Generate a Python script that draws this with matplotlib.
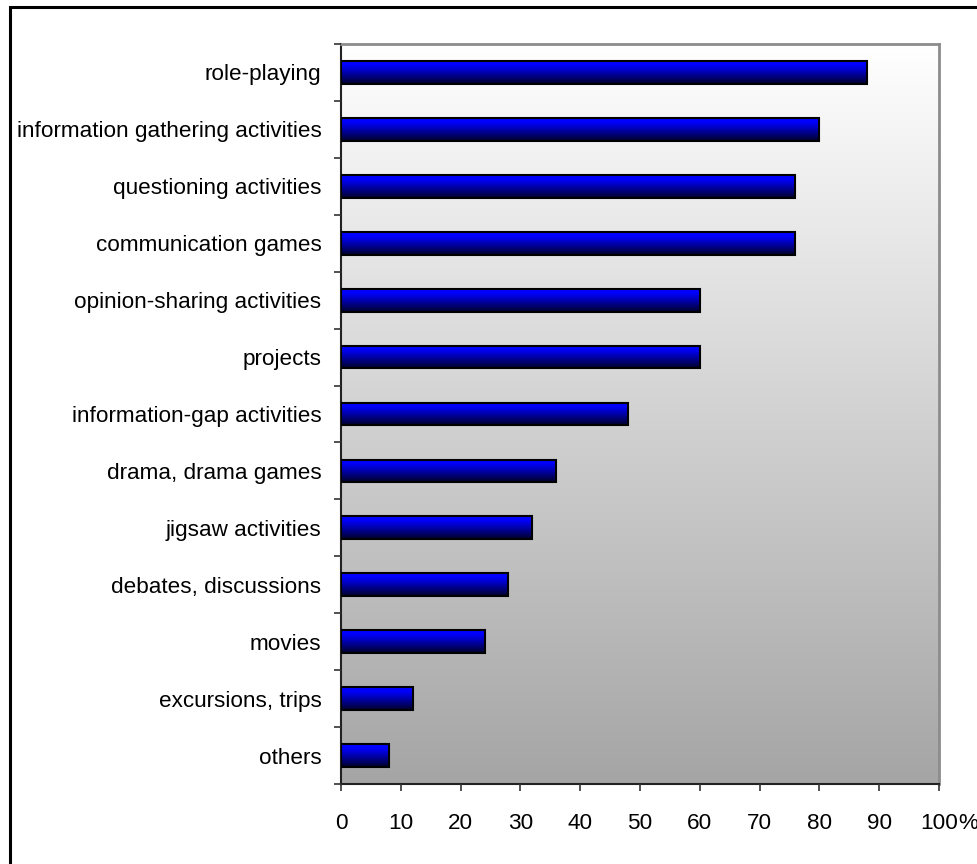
import numpy as np
import matplotlib
matplotlib.use("Agg")
import matplotlib.pyplot as plt
from matplotlib.patches import Rectangle

plt.rcParams['font.family'] = ['Liberation Sans', 'DejaVu Sans']

categories = [
    "role-playing",
    "information gathering activities",
    "questioning activities",
    "communication games",
    "opinion-sharing activities",
    "projects",
    "information-gap activities",
    "drama, drama games",
    "jigsaw activities",
    "debates, discussions",
    "movies",
    "excursions, trips",
    "others",
]
values = [88, 80, 76, 76, 60, 60, 48, 36, 32, 28, 24, 12, 8]
x_ticks = [0, 10, 20, 30, 40, 50, 60, 70, 80, 90, 100]
x_tick_labels = ["0", "10", "20", "30", "40", "50", "60", "70", "80", "90", "100"]

FS = 16.2
W, H = 978, 864
fig = plt.figure(figsize=(W / 100, H / 100), dpi=100)
fig.patch.set_facecolor("white")

# outer border (left + top visible)
fig.add_artist(Rectangle((10 / W, -0.1), 1.2, 1 - 7 / H + 0.1, transform=fig.transFigure,
                         fill=False, edgecolor="black", linewidth=2.2, zorder=10))

left, right = 341 / W, 939 / W
top, bottom = 1 - 44 / H, 1 - 784 / H
ax = fig.add_axes([left, bottom, right - left, top - bottom])

n = len(categories)
ax.set_xlim(0, 100)
ax.set_ylim(n - 0.5, -0.5)

# background gradient
grad = np.linspace(1.0, 0.0, 256).reshape(-1, 1)
bg_top = np.array([255, 255, 255]) / 255
bg_bot = np.array([165, 165, 165]) / 255
bg = (bg_bot[None, None, :] + (bg_top - bg_bot)[None, None, :] * grad[:, :, None])
ax.imshow(bg, extent=[0, 100, n - 0.5, -0.5], aspect="auto", zorder=0, interpolation="bilinear")

bars = ax.barh(range(n), values, height=0.4, color="none", edgecolor="black",
               linewidth=1.5, zorder=3)

# bar gradient (bright top -> dark bottom)
t = np.linspace(0, 1, 64).reshape(-1, 1)
b_top = np.array([0, 0, 255]) / 255
b_bot = np.array([0, 0, 40]) / 255
s = np.clip((t - 0.15) / 0.85, 0, 1) ** 1.1
bar_img = b_top[None, None, :] + (b_bot - b_top)[None, None, :] * s[:, :, None]
for p in bars.patches:
    x0, y0, w, h = p.get_x(), p.get_y(), p.get_width(), p.get_height()
    im = ax.imshow(bar_img, extent=[x0, x0 + w, y0 + h, y0], aspect="auto", zorder=2,
                   interpolation="bilinear")
    im.set_clip_path(p)

ax.set_xlim(0, 100)
ax.set_ylim(n - 0.5, -0.5)

ax.set_yticks(range(n))
ax.set_yticklabels(categories, fontsize=FS)
ax.set_yticks(np.arange(-0.5, n, 1), minor=True)
ax.tick_params(axis="y", which="major", length=0, pad=14)
ax.tick_params(axis="y", which="minor", length=5, width=1.2, color="#333333", direction="out")

XPAD = 16
ax.set_xticks(x_ticks)
ax.set_xticklabels(x_tick_labels, fontsize=FS)
ax.tick_params(axis="x", length=5, width=1.2, color="#333333", direction="out", pad=XPAD)

ax.annotate("%", xy=(100, 0), xycoords=("data", "axes fraction"),
            xytext=(14.2, -(5 + XPAD)), textcoords="offset points", ha="left", va="top",
            fontsize=FS)

for side in ("top", "right"):
    ax.spines[side].set_color("#8c8c8c")
    ax.spines[side].set_linewidth(2)
for side in ("left", "bottom"):
    ax.spines[side].set_color("#222222")
    ax.spines[side].set_linewidth(1.5)
ax.set_axisbelow(False)

fig.savefig("out.png", dpi=100)
